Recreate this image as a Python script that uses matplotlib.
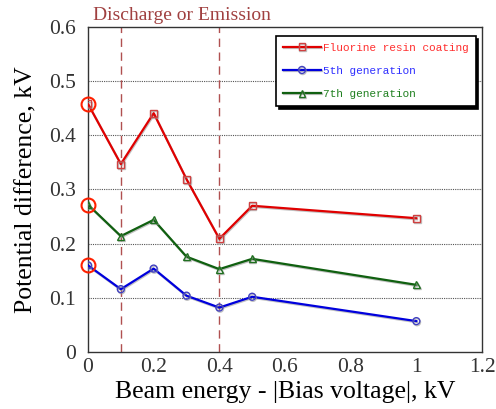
import matplotlib
matplotlib.use("Agg")
import matplotlib.pyplot as plt
import matplotlib.patheffects as pe

x = [0, 0.1, 0.2, 0.3, 0.4, 0.5, 1.0]
fluorine = [0.458, 0.347, 0.441, 0.319, 0.209, 0.270, 0.247]
gen5 = [0.160, 0.116, 0.154, 0.104, 0.082, 0.102, 0.057]
gen7 = [0.272, 0.214, 0.244, 0.176, 0.153, 0.172, 0.124]
discharge_x = [0.1, 0.4]

fig = plt.figure(figsize=(4.96, 4.09), dpi=100)
ax = fig.add_axes([88/496, 1-352/409, (482-88)/496, (352-27)/409])

serif = "Liberation Serif"
mono = "Liberation Mono"

for yv in [0.1, 0.2, 0.3, 0.4, 0.5]:
    ax.axhline(yv, color="#555555", lw=0.8, ls=(0, (1, 1)), zorder=1)
for xv in discharge_x:
    ax.axvline(xv, color="#b05050", lw=1.0, ls=(0, (6, 4)), zorder=1)

shadow = [pe.SimpleLineShadow(offset=(0.5, -0.8), shadow_color="#999999", alpha=0.6), pe.Normal()]
l1, = ax.plot(x, fluorine, color="#e00000", lw=1.6, marker="s", ms=5, mfc="none", mec="#d04040", mew=1.0, zorder=3, label="Fluorine resin coating", path_effects=shadow)
l2, = ax.plot(x, gen5, color="#0000dd", lw=1.6, marker="o", ms=5, mfc="none", mec="#4040c0", mew=1.0, zorder=3, label="5th generation", path_effects=shadow)
l3, = ax.plot(x, gen7, color="#106010", lw=1.6, marker="^", ms=5, mfc="none", mec="#207020", mew=1.0, zorder=3, label="7th generation", path_effects=shadow)

ax.plot([x[0]]*3, [fluorine[0], gen5[0], gen7[0]], ls="none", marker="o", ms=10, mfc="none", mec="#ff2000", mew=1.5, zorder=4, clip_on=False)

ax.set_xlim(0, 1.2)
ax.set_ylim(0, 0.6)
ax.set_xticks([0, 0.2, 0.4, 0.6, 0.8, 1.0, 1.2])
ax.set_xticklabels(["0", "0.2", "0.4", "0.6", "0.8", "1", "1.2"])
ax.set_yticks([0, 0.1, 0.2, 0.3, 0.4, 0.5, 0.6])
ax.set_yticklabels(["0", "0.1", "0.2", "0.3", "0.4", "0.5", "0.6"])
ax.tick_params(axis="y", length=0, labelsize=15.5, pad=9)
ax.tick_params(axis="x", length=0, labelsize=15.5, pad=4)
for lab in ax.get_xticklabels() + ax.get_yticklabels():
    lab.set_fontfamily(serif)
    lab.set_color("#333333")
for s in ax.spines.values():
    s.set_color("#333333")
    s.set_linewidth(1.0)

ax.set_xlabel("Beam energy - |Bias voltage|, kV", fontfamily=serif, fontsize=18.5, labelpad=3)
ax.set_ylabel("Potential difference, kV", fontfamily=serif, fontsize=18.5, labelpad=8)

ax.text(0.015, 0.606, "Discharge or Emission", fontfamily=serif, fontsize=14, color="#a04040", ha="left", va="bottom", transform=ax.transData)

leg = ax.legend(handles=[l1, l2, l3], loc="upper right", bbox_to_anchor=(0.992, 0.983),
                prop={"family": mono, "size": 8}, frameon=True, fancybox=False,
                shadow={"color": "black", "alpha": 1.0}, edgecolor="black",
                handlelength=3.4, labelspacing=1.2, borderpad=0.6, handletextpad=0.2,
                borderaxespad=0.3)
leg.get_frame().set_linewidth(1.2)
for t, c in zip(leg.get_texts(), ["#ff3030", "#3030ff", "#208020"]):
    t.set_color(c)

fig.savefig("out.png", dpi=100)
